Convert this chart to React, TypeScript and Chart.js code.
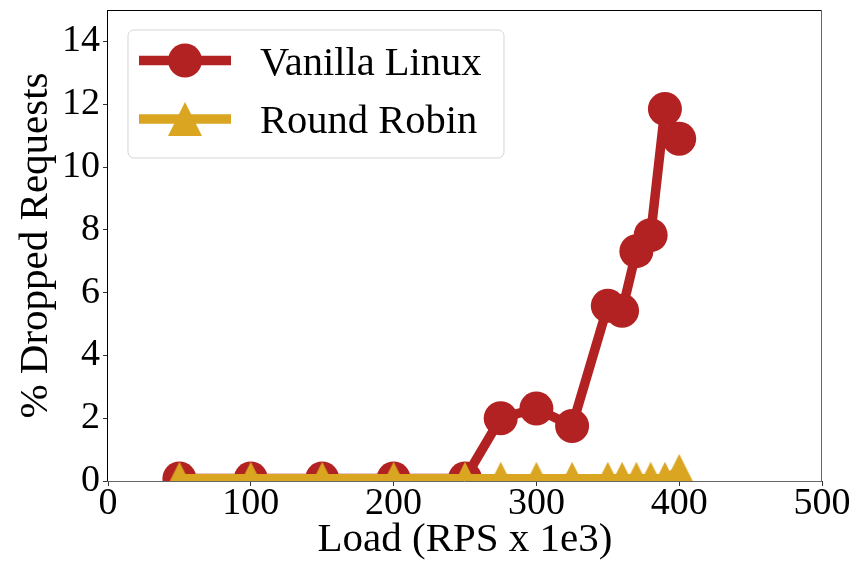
import React, { useEffect, useRef } from 'react';
import { Chart, registerables } from 'chart.js';

Chart.register(...registerables);

// Offered load (thousands of requests per second)
const loads = [50, 100, 150, 200, 250, 275, 300, 325, 350, 360, 370, 380, 390, 400];
// Percentage of requests dropped per scheduler
const vanillaLinux = [0.08, 0.08, 0.08, 0.08, 0.08, 2.0, 2.31, 1.75, 5.58, 5.42, 7.32, 7.83, 11.85, 10.9];
const roundRobin = [0.07, 0.07, 0.07, 0.07, 0.07, 0.07, 0.07, 0.07, 0.07, 0.07, 0.07, 0.07, 0.07, 0.32];

const seriesLabels = ['Vanilla Linux', 'Round Robin'];
const xTitle = 'Load (RPS x 1e3)';
const yTitle = '% Dropped Requests';

const X_MIN = 0;
const X_MAX = 500;
const X_STEP = 100;
const Y_MIN = 0;
const Y_MAX = 15;
const Y_STEP = 2;

const RED = '#B22222';
const GOLD = '#DAA520';
const FONT = '"Liberation Serif", "Times New Roman", serif';
const MARKER = 34;
const LINE_W = 9.5;

function makeTriangle(color: string, size: number): HTMLCanvasElement {
  const c = document.createElement('canvas');
  c.width = size;
  c.height = size;
  const g = c.getContext('2d')!;
  g.fillStyle = color;
  g.beginPath();
  g.moveTo(size / 2, 0);
  g.lineTo(size, size);
  g.lineTo(0, size);
  g.closePath();
  g.fill();
  return c;
}

export default function App() {
  const canvasRef = useRef<HTMLCanvasElement | null>(null);

  useEffect(() => {
    const canvas = canvasRef.current;
    if (!canvas) return;
    const triangle = makeTriangle(GOLD, MARKER);

    // Spines, axis titles and a boxed legend with line + marker samples
    const decorations = {
      id: 'decorations',
      afterDatasetsDraw(chart: any) {
        const { ctx, chartArea: a } = chart;
        ctx.save();
        ctx.lineWidth = 1;
        ctx.strokeStyle = '#000';
        ctx.beginPath();
        ctx.moveTo(Math.floor(a.left), Math.floor(a.top) + 0.5);
        ctx.lineTo(Math.floor(a.right), Math.floor(a.top) + 0.5);
        ctx.moveTo(Math.floor(a.left) - 0.5, Math.floor(a.top));
        ctx.lineTo(Math.floor(a.left) - 0.5, Math.floor(a.bottom) + 1);
        ctx.stroke();
        ctx.strokeStyle = '#666';
        ctx.beginPath();
        ctx.moveTo(Math.floor(a.right) - 0.5, Math.floor(a.top));
        ctx.lineTo(Math.floor(a.right) - 0.5, Math.floor(a.bottom) + 1);
        ctx.moveTo(Math.floor(a.left) - 1, Math.floor(a.bottom) + 0.5);
        ctx.lineTo(Math.floor(a.right), Math.floor(a.bottom) + 0.5);
        ctx.stroke();
        ctx.restore();
      },
      afterDraw(chart: any) {
        const { ctx, chartArea: a } = chart;
        ctx.save();
        ctx.fillStyle = '#000';
        ctx.font = `41px ${FONT}`;
        ctx.textAlign = 'center';
        ctx.textBaseline = 'middle';
        ctx.fillText(xTitle, (a.left + a.right) / 2, 540);
        ctx.save();
        ctx.translate(36, (a.top + a.bottom) / 2);
        ctx.rotate(-Math.PI / 2);
        ctx.fillText(yTitle, 0, 0);
        ctx.restore();

        // legend frame
        const bx = 128, by = 30, bw = 376, bh = 128, r = 6;
        ctx.beginPath();
        ctx.moveTo(bx + r, by);
        ctx.arcTo(bx + bw, by, bx + bw, by + bh, r);
        ctx.arcTo(bx + bw, by + bh, bx, by + bh, r);
        ctx.arcTo(bx, by + bh, bx, by, r);
        ctx.arcTo(bx, by, bx + bw, by, r);
        ctx.closePath();
        ctx.fillStyle = 'rgba(255,255,255,0.8)';
        ctx.fill();
        ctx.strokeStyle = 'rgba(204,204,204,0.8)';
        ctx.lineWidth = 1;
        ctx.stroke();

        const rows = [60.5, 119];
        chart.data.datasets.forEach((ds: any, i: number) => {
          const y = rows[i];
          ctx.strokeStyle = ds.borderColor;
          ctx.lineWidth = LINE_W;
          ctx.lineCap = 'butt';
          ctx.beginPath();
          ctx.moveTo(139, y);
          ctx.lineTo(231, y);
          ctx.stroke();
          if (ds.pointStyle === 'circle') {
            ctx.fillStyle = ds.pointBackgroundColor;
            ctx.beginPath();
            ctx.arc(185, y, MARKER / 2, 0, Math.PI * 2);
            ctx.fill();
          } else {
            ctx.drawImage(ds.pointStyle, 185 - MARKER / 2, y - MARKER / 2);
          }
          ctx.fillStyle = '#000';
          ctx.font = `40.5px ${FONT}`;
          ctx.textAlign = 'left';
          ctx.textBaseline = 'alphabetic';
          ctx.fillText(ds.label, 260, y + 14);
        });
        ctx.restore();
      },
    };

    const chart = new Chart(canvas, {
      type: 'line',
      data: {
        datasets: [
          {
            label: seriesLabels[0],
            data: loads.map((x, i) => ({ x, y: vanillaLinux[i] })),
            borderColor: RED,
            backgroundColor: RED,
            pointBackgroundColor: RED,
            pointBorderColor: RED,
            pointStyle: 'circle',
            pointRadius: MARKER / 2,
            pointBorderWidth: 0,
            borderWidth: LINE_W,
            borderJoinStyle: 'round',
            tension: 0,
            clip: 0,
            order: 1,
          },
          {
            label: seriesLabels[1],
            data: loads.map((x, i) => ({ x, y: roundRobin[i] })),
            borderColor: GOLD,
            backgroundColor: GOLD,
            pointBackgroundColor: GOLD,
            pointBorderColor: GOLD,
            pointStyle: triangle as any,
            pointRadius: MARKER / 2,
            pointBorderWidth: 0,
            borderWidth: LINE_W,
            borderJoinStyle: 'round',
            tension: 0,
            clip: 0,
            order: 0,
          },
        ],
      },
      options: {
        responsive: false,
        animation: false,
        devicePixelRatio: 1,
        events: [],
        layout: { autoPadding: false, padding: { left: 0, right: 42, top: 10, bottom: 0 } },
        plugins: {
          legend: { display: false },
          tooltip: { enabled: false },
        },
        scales: {
          x: {
            type: 'linear',
            min: X_MIN,
            max: X_MAX,
            afterFit(scale: any) {
              scale.height = 83;
              scale.paddingLeft = 0;
              scale.paddingRight = 0;
            },
            border: { display: false },
            grid: {
              drawOnChartArea: false,
              drawTicks: true,
              tickLength: 5,
              tickColor: '#333',
              tickWidth: 1,
            },
            ticks: {
              stepSize: X_STEP,
              color: '#000',
              padding: -1,
              maxRotation: 0,
              font: { family: FONT, size: 38, lineHeight: 1 },
            },
          },
          y: {
            type: 'linear',
            min: Y_MIN,
            max: Y_MAX,
            afterFit(scale: any) {
              scale.width = 108;
              scale.paddingTop = 0;
              scale.paddingBottom = 0;
            },
            border: { display: false },
            grid: {
              drawOnChartArea: false,
              drawTicks: true,
              tickLength: 5,
              tickColor: '#333',
              tickWidth: 1,
            },
            ticks: {
              stepSize: Y_STEP,
              includeBounds: false,
              color: '#000',
              padding: 3,
              font: { family: FONT, size: 38, lineHeight: 1 },
            },
          },
        },
      },
      plugins: [decorations],
    } as any);

    return () => chart.destroy();
  }, []);

  return (
    <div style={{ position: 'absolute', left: 0, top: 0, width: 864, height: 564, background: '#fff' }}>
      <canvas ref={canvasRef} width={864} height={564} style={{ width: 864, height: 564, display: 'block' }} />
    </div>
  );
}
